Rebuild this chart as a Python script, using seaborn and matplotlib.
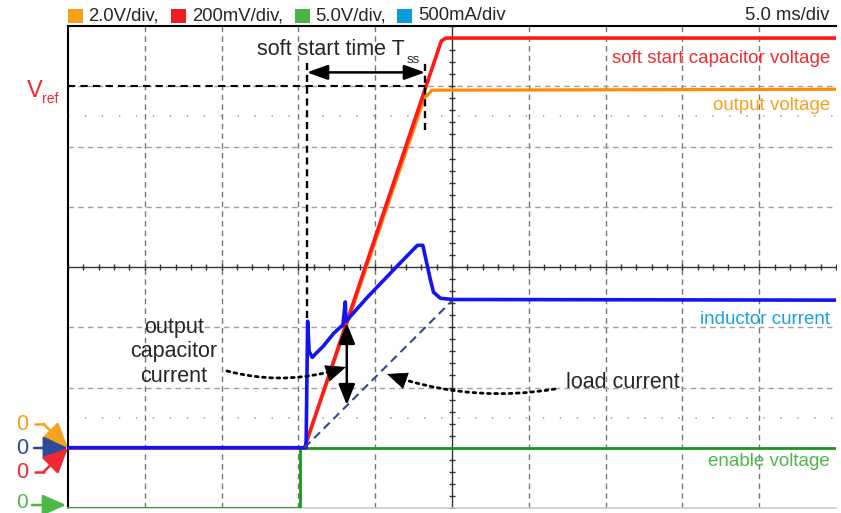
import matplotlib
matplotlib.use('Agg')
import matplotlib.pyplot as plt
import numpy as np
import pandas as pd
import seaborn as sns
from matplotlib.patches import Rectangle, FancyArrowPatch
from matplotlib.lines import Line2D

# ==================== scope settings ====================
W, H = 841, 513
MS_PER_DIV = 5.0
N_XDIV, N_YDIV = 10, 8

# channel name -> (scale per div, zero level in div counted from bottom)
CHANNELS = {
    'vout':   (2.0, 1.0),   # 2.0V/div
    'vss':    (0.2, 1.0),   # 200mV/div
    'enable': (5.0, 0.0),   # 5.0V/div
    'il':     (0.5, 1.0),   # 500mA/div
}

# ==================== traces (time in ms) ====================
enable_t = [0, 15.1, 15.1, 50]
enable_v = [0, 0, 5.0, 5.0]

vss_t = [0, 15.4, 24.3, 24.6, 50]
vss_v = [0, 0, 1.35, 1.36, 1.36]

vout_t = [0, 15.4, 23.2, 23.7, 50]
vout_v = [0, 0, 11.6, 11.87, 11.9]

il_t = [0, 15.3, 15.5, 15.6, 15.7, 15.9, 16.2, 16.6, 17.3, 17.9, 18.05, 18.1,
        19.5, 21.6, 22.75, 23.1, 23.6, 23.8, 24.25, 25.1, 27.2, 50]
il_a = [0, 0, 0, 1.05, 0.80, 0.75, 0.79, 0.84, 0.95, 1.02, 1.21, 1.05,
        1.25, 1.53, 1.68, 1.68, 1.39, 1.29, 1.24, 1.23, 1.23, 1.225]

load_t = [15.4, 25.0]
load_a = [0, 1.22]

# soft start markers
T_SS_START, T_SS_END = 15.55, 23.25
T_CAP_ARROW = 18.15

header_labels = ['2.0V/div,', '200mV/div,', '5.0V/div,', '500mA/div']
header_colors = ['#f7a11a', '#ed1c24', '#4cb34b', '#0a9ad9']


def to_div(vals, ch):
    scale, zero = CHANNELS[ch]
    return zero + np.asarray(vals, dtype=float) / scale


def fx(x):
    return x / W


def fy(y):
    return 1 - y / H


def dotted_pointer(fig, p0, p2, rad, head=17):
    # quadratic arc (same as arc3) drawn dotted, with a solid head at p2
    x0, y0 = p0[0], H - p0[1]
    x2, y2 = p2[0], H - p2[1]
    dx, dy = x2 - x0, y2 - y0
    cx, cy = (x0 + x2) / 2 + rad * dy, (y0 + y2) / 2 - rad * dx
    fig.add_artist(FancyArrowPatch((x0 / W, y0 / H), (x2 / W, y2 / H),
                                   transform=fig.transFigure,
                                   connectionstyle=f'arc3,rad={rad}',
                                   arrowstyle='-', lw=2, ls=(0, (1, 1.6)),
                                   color='black', shrinkA=0, shrinkB=head - 4))
    ux, uy = x2 - cx, y2 - cy
    n = np.hypot(ux, uy)
    ux, uy = ux / n, uy / n
    bx, by = x2 - head * ux, y2 - head * uy
    fig.add_artist(FancyArrowPatch((bx / W, by / H), (x2 / W, y2 / H),
                                   transform=fig.transFigure,
                                   arrowstyle='-|>,head_length=0.85,head_width=0.36',
                                   mutation_scale=16, lw=0.5, color='black',
                                   shrinkA=0, shrinkB=0))


sns.set_style('white')
plt.rcParams['font.family'] = ['Liberation Sans', 'DejaVu Sans']

fig = plt.figure(figsize=(W / 100, H / 100), dpi=100)
ax = fig.add_axes([fx(68), fy(508), (836 - 68) / W, (508 - 26) / H])
ax.set_xlim(0, N_XDIV * MS_PER_DIV)
ax.set_ylim(0, N_YDIV)
ax.set_xticks([])
ax.set_yticks([])

# ---- graticule ----
for i in range(1, N_XDIV):
    if i == N_XDIV // 2:
        continue
    ax.axvline(i * MS_PER_DIV, color='#777777', ls=(0, (4, 3)), lw=1.0, zorder=1)
for j in [2, 3, 5, 6, 7]:
    ax.axhline(j, color='#a0a0a0', ls=(0, (4, 3)), lw=1.0, zorder=1)
for j in [1.5, 6.5]:
    ax.axhline(j, color='#9a9a9a', ls=(0, (0.9, 10.2)), lw=1.1, zorder=1)
ax.axhline(N_YDIV / 2, color='#333333', lw=1.0, zorder=1)
ax.axvline(N_XDIV * MS_PER_DIV / 2, color='#333333', lw=1.0, zorder=1)
xt = np.arange(0, N_XDIV * MS_PER_DIV + 0.01, MS_PER_DIV / 5)
ax.plot(xt, np.full_like(xt, N_YDIV / 2), ls='none', marker='|', ms=5, mew=1, color='#333333', zorder=1)
yt = np.arange(0, N_YDIV + 0.01, 0.2)
ax.plot(np.full_like(yt, N_XDIV * MS_PER_DIV / 2), yt, ls='none', marker='_', ms=5, mew=1, color='#333333', zorder=1)

ax.spines['right'].set_visible(False)
ax.spines['left'].set_color('black')
ax.spines['left'].set_linewidth(1.5)
ax.spines['top'].set_color('black')
ax.spines['top'].set_linewidth(1.5)
ax.spines['bottom'].set_color('#cccccc')
ax.spines['bottom'].set_linewidth(1.2)

# ---- traces ----
traces = [
    ('enable', enable_t, enable_v, '#1a961a', 2.0),
    ('vout', vout_t, vout_v, '#ff8c00', 2.3),
    ('vss', vss_t, vss_v, '#ff1a1a', 2.6),
    ('il', il_t, il_a, '#1414f0', 2.6),
]
for ch, t, v, col, lw in traces:
    df = pd.DataFrame({'t': t, 'div': to_div(v, ch)})
    sns.lineplot(data=df, x='t', y='div', estimator=None, sort=False,
                 color=col, lw=lw, ax=ax, zorder=3)

df_load = pd.DataFrame({'t': load_t, 'div': to_div(load_a, 'il')})
sns.lineplot(data=df_load, x='t', y='div', estimator=None, sort=False,
             color='#2e4a8c', lw=1.5, ls=(0, (4, 2.5)), ax=ax, zorder=3)
ax.set_xlabel('')
ax.set_ylabel('')

# ---- soft start annotation ----
vref_div = 7.0
ax.plot([0, T_SS_END], [vref_div, vref_div], color='black', ls=(0, (3.5, 2.5)), lw=1.5, zorder=4)
ax.plot([T_SS_START, T_SS_START], [3.15, 7.42], color='black', ls=(0, (3, 2)), lw=1.7, zorder=4)
ax.plot([T_SS_END, T_SS_END], [6.27, 7.42], color='black', ls=(0, (3, 2)), lw=1.7, zorder=4)
ax.annotate('', xy=(T_SS_END, 7.23), xytext=(T_SS_START, 7.23),
            arrowprops=dict(arrowstyle='<|-|>,head_length=0.7,head_width=0.25',
                            mutation_scale=18, lw=1.8, color='black',
                            shrinkA=0, shrinkB=0), zorder=5)

# capacitor current double arrow
ax.annotate('', xy=(T_CAP_ARROW, 1.71), xytext=(T_CAP_ARROW, 3.07),
            arrowprops=dict(arrowstyle='<|-|>,head_length=0.7,head_width=0.28',
                            mutation_scale=18, lw=1.8, color='black',
                            shrinkA=0, shrinkB=0), zorder=5)

# dotted pointers
dotted_pointer(fig, (227, 371), (346, 367), 0.15)
dotted_pointer(fig, (555, 389), (387, 374), -0.13)

# ---- texts inside plot ----
fig.text(fx(257), fy(55), 'soft start time T', fontsize=15.5, va='baseline', ha='left')
fig.text(fx(407), fy(63), 'ss', fontsize=9.5, va='baseline', ha='left')
fig.text(fx(174), fy(352), 'output\ncapacitor\ncurrent', fontsize=15.5,
         ha='center', va='center', linespacing=1.2)
fig.text(fx(566), fy(383), 'load current', fontsize=15.5, ha='left', va='center')

fig.text(fx(830), fy(59), 'soft start capacitor voltage', fontsize=13.5, color='#ee2e31', ha='right', va='center')
fig.text(fx(830), fy(106), 'output voltage', fontsize=13.5, color='#f6a21e', ha='right', va='center')
fig.text(fx(830), fy(319), 'inductor current', fontsize=13.5, color='#1ba1e2', ha='right', va='center')
fig.text(fx(830), fy(462), 'enable voltage', fontsize=13.5, color='#4cb848', ha='right', va='center')

# V_ref
fig.text(fx(27), fy(97), 'V', fontsize=17, color='#ee2a30', va='baseline')
fig.text(fx(42), fy(103), 'ref', fontsize=10, color='#ee2a30', va='baseline')

# ---- header ----
sq_x = [68, 171, 295, 397]
tx_x = [88, 192, 315, 418]
for xs, xt_, lab, col in zip(sq_x, tx_x, header_labels, header_colors):
    fig.add_artist(Rectangle((fx(xs), fy(23)), 15 / W, 14 / H, transform=fig.transFigure,
                             color=col, lw=0))
    fig.text(fx(xt_), fy(16), lab, fontsize=13.3, ha='left', va='center')
fig.text(fx(829), fy(16), '5.0 ms/div', fontsize=13.3, ha='right', va='center')

# ---- ground markers ----
zero_marks = [
    (424, '#f5a31f', True),
    (448, '#2b4a9a', False),
    (472, '#ee2a30', True),
]
for y0, col, bent in zero_marks:
    fig.text(fx(22), fy(y0), '0', fontsize=15.5, color=col, ha='center', va='center')
    if bent:
        fig.add_artist(Line2D([fx(35), fx(44)], [fy(y0), fy(y0)], transform=fig.transFigure,
                              color=col, lw=1.8))
        start = (fx(43.5), fy(y0))
    else:
        start = (fx(34), fy(y0))
    fig.add_artist(FancyArrowPatch(start, (fx(68), fy(448)), transform=fig.transFigure,
                                   arrowstyle='-|>,head_length=0.9,head_width=0.42',
                                   mutation_scale=17, lw=1.8, color=col,
                                   shrinkA=0, shrinkB=0))
fig.text(fx(22), fy(503), '0', fontsize=15, color='#4cb848', ha='center', va='center')
fig.add_artist(FancyArrowPatch((fx(32), fy(505)), (fx(66), fy(505)), transform=fig.transFigure,
                               arrowstyle='-|>,head_length=0.9,head_width=0.4',
                               mutation_scale=16, lw=1.8, color='#4cb848',
                               shrinkA=0, shrinkB=0))

fig.savefig('out.png', dpi=100)
